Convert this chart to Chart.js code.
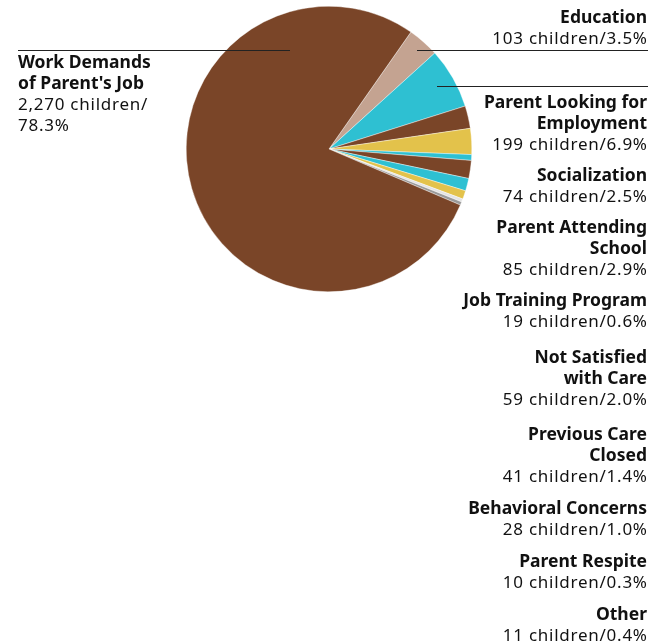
<!DOCTYPE html>
<html><head><meta charset="utf-8">
<script src="https://cdn.jsdelivr.net/npm/chart.js@4"></script>
<style>html,body{margin:0;padding:0;background:#fff}#wrap{width:662px;height:644px;position:relative}</style>
</head><body><div id="wrap"><canvas id="c" width="662" height="644"></canvas></div>
<script>
const categories = ["Education","Parent Looking for Employment","Socialization","Parent Attending School","Job Training Program","Not Satisfied with Care","Previous Care Closed","Behavioral Concerns","Parent Respite","Other","Work Demands of Parent's Job"];
const children = [103,199,74,85,19,59,41,28,10,11,2270];
const percents = [3.5,6.9,2.5,2.9,0.6,2.0,1.4,1.0,0.3,0.4,78.3];
const colors = ["#c4a391","#2ec0d2","#7a4528","#e3c24b","#2ec0d2","#7a4528","#2ec0d2","#e3c24b","#e4e4e4","#9a9a9a","#7a4528"];
// label title lines (layout of wrapping)
const titleLines = [["Education"],["Parent Looking for","Employment"],["Socialization"],["Parent Attending","School"],["Job Training Program"],["Not Satisfied","with Care"],["Previous Care","Closed"],["Behavioral Concerns"],["Parent Respite"],["Other"],["Work Demands","of Parent's Job"]];

const labelTop = [18,103,176,228,301,358,435,509,562,615];
const LH = 21;

const labelPlugin = {
  id:'labels',
  afterDraw(chart){
    const ctx = chart.ctx;
    ctx.save();
    ctx.fillStyle = '#111';
    ctx.textBaseline = 'middle';
    const fam = '"Noto Sans", sans-serif';
    const bold = () => { ctx.font = 'bold 17.5px ' + fam; ctx.letterSpacing = '0px'; };
    const reg = () => { ctx.font = '17px ' + fam; ctx.letterSpacing = '0.75px'; };
    // right side labels
    ctx.textAlign = 'right';
    for (let i=0;i<10;i++){
      let y = labelTop[i];
      bold();
      for (const t of titleLines[i]){ ctx.fillText(t, 647, y); y += LH; }
      reg();
      ctx.fillText(children[i] + ' children/' + percents[i].toFixed(1) + '%', 647.75, y);
    }
    // left label
    ctx.textAlign = 'left';
    let y = 63;
    bold();
    for (const t of titleLines[10]){ ctx.fillText(t, 18, y); y += LH; }
    reg();
    ctx.fillText(children[10].toLocaleString('en-US') + ' children/', 18, y); y += LH;
    ctx.fillText(percents[10].toFixed(1) + '%', 18, y);
    // leader lines
    ctx.letterSpacing = '0px';
    ctx.strokeStyle = '#222';
    ctx.lineWidth = 1;
    const lines = [[18,50.5,290,50.5],[417,50.5,648,50.5],[437,86.5,648,86.5]];
    for (const l of lines){ ctx.beginPath(); ctx.moveTo(l[0],l[1]); ctx.lineTo(l[2],l[3]); ctx.stroke(); }
    ctx.restore();
  }
};

new Chart(document.getElementById('c'), {
  type:'pie',
  data:{ labels:categories, datasets:[{ data:children, backgroundColor:colors, borderColor:'#ffffff', borderWidth:0.4, hoverOffset:0 }]},
  options:{
    responsive:false, animation:false, rotation:35,
    layout:{ padding:{ top:6, bottom:352, left:186, right:190 } },
    plugins:{ legend:{display:false}, tooltip:{enabled:false} }
  },
  plugins:[labelPlugin]
});
</script></body></html>
